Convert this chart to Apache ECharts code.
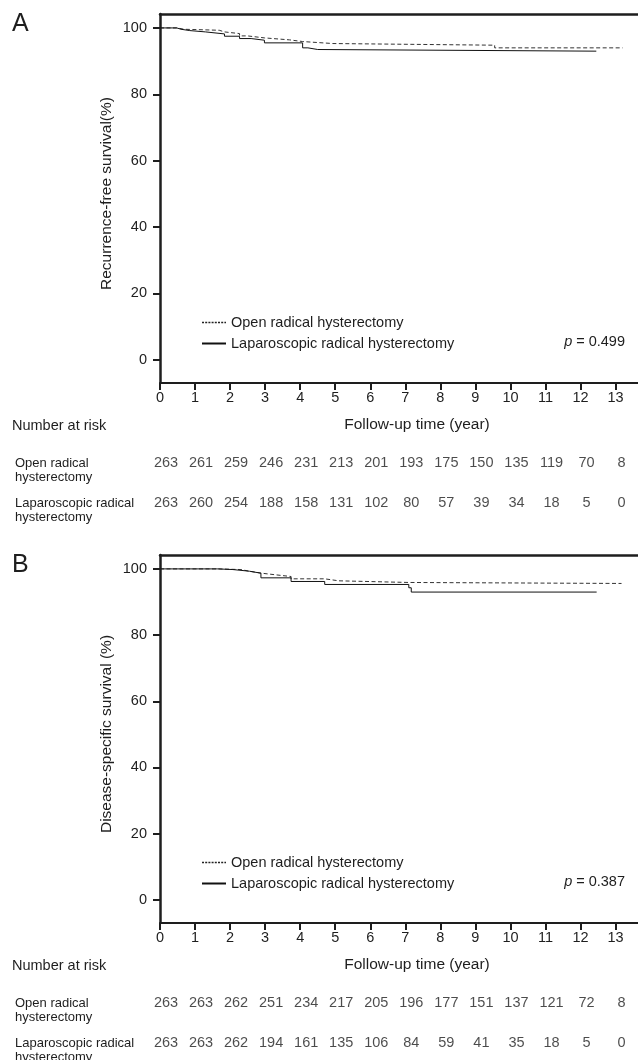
<!DOCTYPE html>
<html>
<head>
<meta charset="utf-8">
<script src="https://cdn.jsdelivr.net/npm/echarts@6/dist/echarts.min.js"></script>
<style>
html,body{margin:0;padding:0;background:#fff;}
#chart{width:638px;height:1060px;}
</style>
</head>
<body>
<div id="chart"></div>
<script>
// ---------- data ----------
const yearTicks = [0,1,2,3,4,5,6,7,8,9,10,11,12,13];
const survTicks = [0,20,40,60,80,100];
const groupNames = ['Open radical hysterectomy','Laparoscopic radical hysterectomy'];
const rowLabels = ['Open radical\nhysterectomy','Laparoscopic radical\nhysterectomy'];

// Panel A: recurrence-free survival (time in years, survival %)
const rfsOpenTime  = [0, 0.48, 0.69, 1.69, 1.84, 2.27, 2.5, 2.98, 3.7, 4.07, 4.93, 9.55, 13.2];
const rfsOpenSurv  = [100, 99.6, 99.3, 98.8, 98.3, 97.6, 97.0, 96.4, 95.9, 95.3, 94.8, 94.0, 94.0];
const rfsLapTime   = [0, 0.48, 0.6, 0.85, 1.3, 1.84, 2.27, 2.6, 2.98, 4.07, 4.22, 4.5, 12.45];
const rfsLapSurv   = [100, 99.6, 99.2, 98.8, 98.2, 97.5, 96.8, 96.3, 95.5, 94.0, 93.5, 93.0, 93.0];

// Panel B: disease-specific survival
const dssOpenTime  = [0, 1.65, 2.31, 2.55, 2.9, 3.31, 3.74, 4.7, 5.1, 7.1, 13.17];
const dssOpenSurv  = [100, 99.8, 99.3, 98.7, 98.2, 97.7, 97.0, 96.4, 95.9, 95.6, 95.6];
const dssLapTime   = [0, 1.65, 2.08, 2.55, 2.88, 3.74, 4.7, 7.1, 7.17, 12.46];
const dssLapSurv   = [100, 99.8, 99.3, 98.7, 97.3, 96.2, 95.3, 94.3, 93.0, 93.0];

// Number at risk
const riskA_open = [263,261,259,246,231,213,201,193,175,150,135,119,70,8];
const riskA_lap  = [263,260,254,188,158,131,102,80,57,39,34,18,5,0];
const riskB_open = [263,263,262,251,234,217,205,196,177,151,137,121,72,8];
const riskB_lap  = [263,263,262,194,161,135,106,84,59,41,35,18,5,0];

const pA = '0.499';
const pB = '0.387';

// ---------- helpers ----------
const INK = '#1e1e1e';
const FONT = '"Liberation Sans", Arial, sans-serif';
const XMAX = 13.64;
function pairs(t, s){ return t.map((v,i)=>[v, s[i]]); }
function riskData(arr, row){ return arr.map((n,i)=>({value:[yearTicks[i], row, n]})); }

function mainX(gi){
  return {
    gridIndex: gi, type:'value', min:0, max:XMAX,
    name:'Follow-up time (year)', nameLocation:'middle', nameGap:34,
    nameTextStyle:{fontFamily:FONT, fontSize:15.5, color:INK, padding:[0,0,0,36]},
    axisLine:{show:true, onZero:false, lineStyle:{color:INK, width:2}},
    axisTick:{show:true, length:7, lineStyle:{color:INK, width:2}, customValues: yearTicks},
    axisLabel:{fontFamily:FONT, fontSize:14.5, color:INK, margin:7, customValues: yearTicks},
    splitLine:{show:false}
  };
}
function topX(gi){
  return {
    gridIndex: gi, type:'value', min:0, max:XMAX, position:'top',
    axisLine:{show:true, onZero:false, lineStyle:{color:INK, width:2.5}},
    axisTick:{show:false}, axisLabel:{show:false}, splitLine:{show:false}
  };
}
function mainY(gi, name){
  return {
    gridIndex: gi, type:'value', min:-7, max:104.2,
    name:name, nameLocation:'middle', nameGap:45, nameMoveOverlap:false,
    nameTextStyle:{fontFamily:FONT, fontSize:15.5, color:INK, padding:[0,0,0,10]},
    axisLine:{show:true, onZero:false, lineStyle:{color:INK, width:2.5}},
    axisTick:{show:true, length:7, lineStyle:{color:INK, width:2}, customValues: survTicks},
    axisLabel:{fontFamily:FONT, fontSize:14.5, color:INK, margin:13, customValues: survTicks},
    splitLine:{show:false}
  };
}
function riskX(gi){
  return { gridIndex: gi, type:'value', min:0, max:XMAX, show:false };
}
function riskY(gi){
  return {
    gridIndex: gi, type:'category', inverse:true, boundaryGap:false, data: rowLabels,
    axisLine:{show:false}, axisTick:{show:false}, splitLine:{show:false},
    axisLabel:{interval:0, align:'left', margin:145, fontFamily:FONT, fontSize:13, lineHeight:14,
      color:INK, verticalAlign:'middle', formatter: v => '\n' + v}
  };
}
function curve(name, xi, yi, data, dashed){
  return {
    name:name, type:'line', step:'end', xAxisIndex:xi, yAxisIndex:yi,
    data:data, symbol:'none', silent:true, animation:false,
    itemStyle:{color:'#111'},
    lineStyle:{color: dashed ? '#333' : '#111', width:1, type: dashed ? [4,2.5] : 'solid'}
  };
}
function riskSeries(xi, yi, data){
  return {
    type:'scatter', xAxisIndex:xi, yAxisIndex:yi, data:data, symbolSize:0,
    silent:true, animation:false,
    label:{show:true, position:'inside', offset:[6,0], formatter:p=>String(p.value[2]),
      fontFamily:FONT, fontSize:14.5, color:INK}
  };
}
function legendAt(top){
  return {
    left:201, top:top, padding:0, orient:'vertical', itemWidth:24, itemHeight:14, itemGap:6,
    selectedMode:false,
    textStyle:{fontFamily:FONT, fontSize:14.5, color:INK},
    data:[
      {name:groupNames[0], itemStyle:{opacity:0}, lineStyle:{color:'#222', width:1.6, type:[2,1.2]}},
      {name:groupNames[1], itemStyle:{opacity:0}, lineStyle:{color:'#111', width:2, type:'solid'}}
    ]
  };
}

const option = {
  backgroundColor:'#fff',
  animation:false,
  grid:[
    {left:160, top:14, width:478, height:369, outerBoundsMode:'none'},
    {left:160, top:555, width:478, height:368, outerBoundsMode:'none'},
    {left:160, top:463, width:478, height:40, outerBoundsMode:'none'},
    {left:160, top:1003, width:478, height:40, outerBoundsMode:'none'}
  ],
  xAxis:[ mainX(0), topX(0), mainX(1), topX(1), riskX(2), riskX(3) ],
  yAxis:[ mainY(0,'Recurrence-free survival(%)'), mainY(1,'Disease-specific survival (%)'), riskY(2), riskY(3) ],
  legend:[ legendAt(315), legendAt(855) ],
  series:[
    curve(groupNames[0], 0, 0, pairs(rfsOpenTime, rfsOpenSurv), true),
    curve(groupNames[1], 0, 0, pairs(rfsLapTime, rfsLapSurv), false),
    curve(groupNames[0], 2, 1, pairs(dssOpenTime, dssOpenSurv), true),
    curve(groupNames[1], 2, 1, pairs(dssLapTime, dssLapSurv), false),
    riskSeries(4, 2, riskData(riskA_open, 0).concat(riskData(riskA_lap, 1))),
    riskSeries(5, 3, riskData(riskB_open, 0).concat(riskData(riskB_lap, 1)))
  ],
  graphic:[
    {type:'text', left:12, top:12, style:{text:'A', font:'25px ' + FONT, fill:INK}},
    {type:'text', left:12, top:553, style:{text:'B', font:'25px ' + FONT, fill:INK}},
    {type:'text', left:12, top:418, style:{text:'Number at risk', font:'14.5px ' + FONT, fill:INK}},
    {type:'text', left:12, top:958, style:{text:'Number at risk', font:'14.5px ' + FONT, fill:INK}},
    {type:'text', right:13, top:334, style:{rich:{i:{fontStyle:'italic', fontSize:14.5, fontFamily:FONT, fill:INK}, n:{fontSize:14.5, fontFamily:FONT, fill:INK}}, text:'{i|p}{n| = ' + pA + '}'}},
    {type:'text', right:13, top:874, style:{rich:{i:{fontStyle:'italic', fontSize:14.5, fontFamily:FONT, fill:INK}, n:{fontSize:14.5, fontFamily:FONT, fill:INK}}, text:'{i|p}{n| = ' + pB + '}'}}
  ]
};

const chart = echarts.init(document.getElementById('chart'), null, {renderer:'canvas'});
chart.setOption(option);
</script>
</body>
</html>
